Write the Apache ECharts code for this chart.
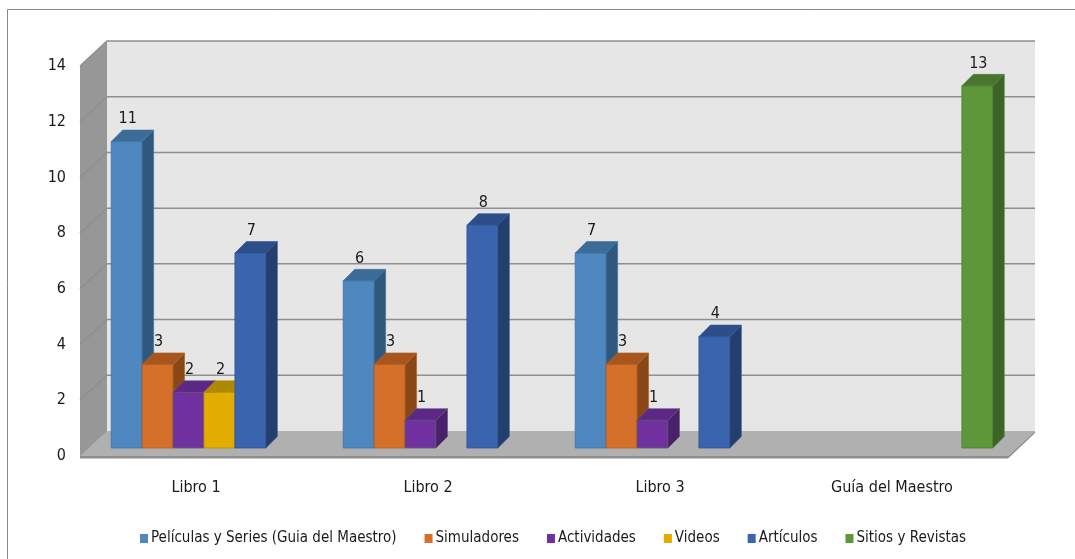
<!DOCTYPE html>
<html>
<head>
<meta charset="utf-8">
<script src="https://cdn.jsdelivr.net/npm/echarts@6/dist/echarts.min.js"></script>
<style>
html,body{margin:0;padding:0;background:#fff;}
#chart{width:1075px;height:559px;}
</style>
</head>
<body>
<div id="chart"></div>
<script>
const categories = ['Libro 1', 'Libro 2', 'Libro 3', 'Guía del Maestro'];
const seriesNames = ['Películas y Series (Guia del Maestro)', 'Simuladores', 'Actividades', 'Videos', 'Artículos', 'Sitios y Revistas'];
const peliculas = [11, 6, 7, null];
const simuladores = [3, 3, 3, null];
const actividades = [2, 1, 1, null];
const videos = [2, null, null, null];
const articulos = [7, 8, 4, null];
const sitios = [null, null, null, 13];
const yTickMax = 14;
const yTickStep = 2;

const seriesValues = [peliculas, simuladores, actividades, videos, articulos, sitios];
const frontColors = ['#4F88C0', '#D5702A', '#7030A0', '#E2AC00', '#3A64AE', '#5E963A'];
const sideColors  = ['#30587C', '#8A4818', '#4A1F6C', '#9A7600', '#243F6E', '#3D6428'];
const topColors   = ['#3D6B98', '#A9561E', '#5C2786', '#B08800', '#2D4E88', '#487530'];
const edgeColors  = ['#3E73A6', '#B5601F', '#5a5a6a', '#B88E00', '#2F5597', '#4E7E30'];

const FONT = "'Liberation Sans Narrow', 'Arial Narrow', 'DejaVu Sans Condensed', sans-serif";
const DX = 27, DY = -25;      // wall depth
const SX = 8, SY = -8;        // bar offset into depth
const BX = 11.5, BY = -11.5;  // bar depth

const chart = echarts.init(document.getElementById('chart'), null, {renderer: 'canvas'});

function wallsRender(params, api) {
  const cs = params.coordSys;
  const x0 = cs.x, x1 = cs.x + cs.width;
  const yB = api.coord([0, 0])[1];
  const yT = api.coord([0, yTickMax])[1];
  const ch = [];
  ch.push({type: 'rect', shape: {x: x0 + DX, y: yT + DY, width: x1 - x0, height: yB - yT}, style: {fill: '#E6E6E6'}, z2: 0});
  ch.push({type: 'polygon', shape: {points: [[x0, yT], [x0, yB + 2], [x0 + DX, yB + DY + 2], [x0 + DX, yT + DY]]}, style: {fill: '#979797'}, z2: 1});
  for (let v = yTickStep; v <= yTickMax; v += yTickStep) {
    const y = api.coord([0, v])[1];
    ch.push({type: 'polyline', shape: {points: [[x0, y], [x0 + DX, y + DY], [x1 + DX, y + DY]]}, style: {stroke: '#8F8F8F', lineWidth: 1.5, fill: null}, z2: 2});
  }
  ch.push({type: 'polygon', shape: {points: [[x0, yB], [x1, yB], [x1 + DX, yB + DY], [x0 + DX, yB + DY]]}, style: {fill: '#B0B0B0'}, z2: 3});
  ch.push({type: 'polygon', shape: {points: [[x0, yB], [x1, yB], [x1, yB + 2.5], [x0, yB + 2.5]]}, style: {fill: '#8E8E8E'}, z2: 3});
  ch.push({type: 'polygon', shape: {points: [[x1, yB], [x1 + DX, yB + DY], [x1 + DX, yB + DY + 2], [x1, yB + 2.5]]}, style: {fill: '#8E8E8E'}, z2: 3});
  return {type: 'group', children: ch};
}

function makeBarRender(k) {
  return function (params, api) {
    const ci = api.value(0);
    const v = api.value(1);
    if (v == null || isNaN(v)) return null;
    const base = api.coord([ci, 0]);
    const top = api.coord([ci, v]);
    const slot = api.size([1, 0])[0];
    const bw = slot / 7.5;
    const x = base[0] - 3 * bw + k * bw + SX;
    const yb = base[1] + SY;
    const yt = top[1] + SY;
    const z = 10 + k * 3;
    return {
      type: 'group',
      children: [
        {type: 'rect', shape: {x: x, y: yt, width: bw, height: yb - yt}, style: {fill: frontColors[k], stroke: edgeColors[k], lineWidth: 0.8}, z2: z},
        {type: 'polygon', shape: {points: [[x + bw, yt], [x + bw + BX, yt + BY], [x + bw + BX, yb + BY], [x + bw, yb]]}, style: {fill: sideColors[k], stroke: edgeColors[k], lineWidth: 0.6}, z2: z},
        {type: 'polygon', shape: {points: [[x, yt], [x + BX, yt + BY], [x + bw + BX, yt + BY], [x + bw, yt]]}, style: {fill: topColors[k], stroke: edgeColors[k], lineWidth: 0.6}, z2: z + 1},
        {type: 'text', style: {text: String(v), x: x + bw / 2 + 1, y: yt + BY - 3, align: 'center', verticalAlign: 'bottom', fill: '#1a1a1a', font: '16px ' + FONT}, z2: 100}
      ]
    };
  };
}

const series = [{
  type: 'custom', name: '__walls', silent: true, z: 1,
  renderItem: wallsRender, data: [[0, 0]], encode: {x: 0, y: 1}
}];
seriesValues.forEach(function (vals, k) {
  series.push({
    type: 'custom', name: seriesNames[k], z: 2,
    itemStyle: {color: frontColors[k]},
    renderItem: makeBarRender(k),
    encode: {x: 0, y: 1},
    data: vals.map(function (v, i) { return [i, v]; }).filter(function (d) { return d[1] != null; })
  });
});

chart.setOption({
  animation: false,
  backgroundColor: '#fff',
  graphic: [{type: 'rect', shape: {x: 7.5, y: 9.5, width: 1100, height: 600}, style: {fill: null, stroke: '#888', lineWidth: 1}, z: 0, silent: true}],
  grid: {left: 80, right: 67, top: 66, bottom: 103},
  xAxis: {
    type: 'category', data: categories,
    axisLine: {show: false}, axisTick: {show: false}, splitLine: {show: false},
    axisLabel: {margin: 24, color: '#1a1a1a', fontSize: 16, fontFamily: FONT}
  },
  yAxis: {
    type: 'value', min: 0, max: yTickMax, interval: yTickStep,
    axisLine: {show: false}, axisTick: {show: false}, splitLine: {show: false},
    axisLabel: {margin: 14, color: '#1a1a1a', fontSize: 16, fontFamily: FONT}
  },
  legend: {
    data: seriesNames.map(function (n, k) { return {name: n, icon: 'rect', itemStyle: {color: frontColors[k]}}; }),
    left: 135, top: 526, itemWidth: 8, itemHeight: 9, itemGap: 28,
    textStyle: {fontSize: 15, color: '#1a1a1a', fontFamily: FONT, padding: [0, 0, 0, -2]},
    selectedMode: false
  },
  series: series
});
</script>
</body>
</html>
